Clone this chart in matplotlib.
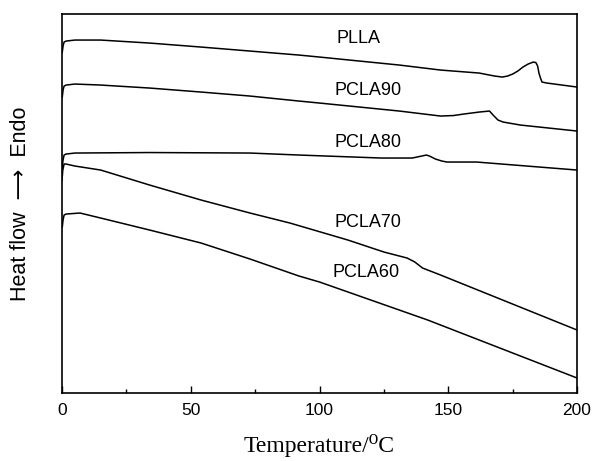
import matplotlib
matplotlib.use('Agg')
import matplotlib.pyplot as plt
from matplotlib.ticker import MultipleLocator

# DSC traces (heat flow in arbitrary units, endo up)
t_plla = [0.1, 0.4, 0.8, 1.6, 5, 15, 34, 54, 73, 92, 100, 131, 147, 162, 168, 171, 173, 175, 177, 179, 181, 183, 184, 184.7, 185.2, 185.8, 186.4, 188.3, 200]
hf_plla = [341, 347, 351, 352, 353, 353, 350, 346, 342, 338, 336, 328, 323, 320, 317, 316, 317, 319, 322, 326, 329, 331, 330.5, 327, 320, 315, 311, 310, 306]

t_pcla90 = [0.1, 0.4, 0.8, 1.6, 5, 15, 34, 54, 73, 92, 100, 131, 147, 152, 156, 162, 166, 167.4, 169.3, 171.3, 178, 200]
hf_pcla90 = [296, 303, 307, 308, 309, 308, 305, 301, 297, 292, 290, 282, 277, 277.5, 279, 281, 282, 278, 273, 271, 268, 262]

t_pcla80 = [0.1, 0.4, 0.8, 1.6, 5, 34, 73, 92, 124, 136, 141.5, 142.7, 145, 147.5, 149.5, 161, 200]
hf_pcla80 = [226, 233, 238, 239, 240, 240.5, 240, 238, 235, 235, 238, 237, 234, 232, 231, 231, 223]

t_pcla70 = [0, 0.3, 0.8, 1.6, 5, 15, 34, 54, 73, 88.5, 111, 125, 134, 137, 140, 147, 200]
hf_pcla70 = [213, 223, 229, 229, 227, 223, 208, 193, 180, 170, 153, 141, 135, 131, 125, 118, 63]

t_pcla60 = [0.1, 0.4, 0.8, 1.6, 7, 15, 34, 54, 73, 92, 100, 142, 200]
hf_pcla60 = [166, 173, 178, 179, 180, 175, 163, 150, 134, 117, 111, 73, 15]

names = ['PLLA', 'PCLA90', 'PCLA80', 'PCLA70', 'PCLA60']
label_x = [106.4, 106.0, 106.0, 106.0, 105.2]
label_y = [355, 303, 251, 171, 121]

fig = plt.figure(figsize=(5.93, 4.61), dpi=100)
ax = fig.add_axes([0.1046, 0.1475, 0.8685, 0.822])

for t, hf in [(t_plla, hf_plla), (t_pcla90, hf_pcla90), (t_pcla80, hf_pcla80),
              (t_pcla70, hf_pcla70), (t_pcla60, hf_pcla60)]:
    ax.plot(t, hf, color='black', lw=1.1)

for n, x, y in zip(names, label_x, label_y):
    ax.text(x, y, n, fontsize=13, family=['Liberation Sans', 'DejaVu Sans'],
            ha='left', va='center')

ax.set_xlim(0, 200)
ax.set_ylim(0, 379)
ax.xaxis.set_major_locator(MultipleLocator(50))
ax.xaxis.set_minor_locator(MultipleLocator(25))
ax.tick_params(axis='x', which='major', direction='in', length=5, width=1, pad=7)
ax.tick_params(axis='x', which='minor', direction='in', length=3, width=1)
ax.set_yticks([])
for lab in ax.get_xticklabels():
    lab.set_family(['Liberation Sans', 'DejaVu Sans'])
    lab.set_fontsize(12.5)
for s in ax.spines.values():
    s.set_linewidth(1.2)

ax.set_xlabel('Temperature/\u2070C', fontsize=17,
              family=['Liberation Serif', 'DejaVu Serif'], labelpad=12)
ax.set_ylabel('Heat flow  \u27f6  Endo', fontsize=15.5,
              family=['Liberation Sans', 'DejaVu Sans'], labelpad=22)

fig.savefig('out.png', dpi=100)
